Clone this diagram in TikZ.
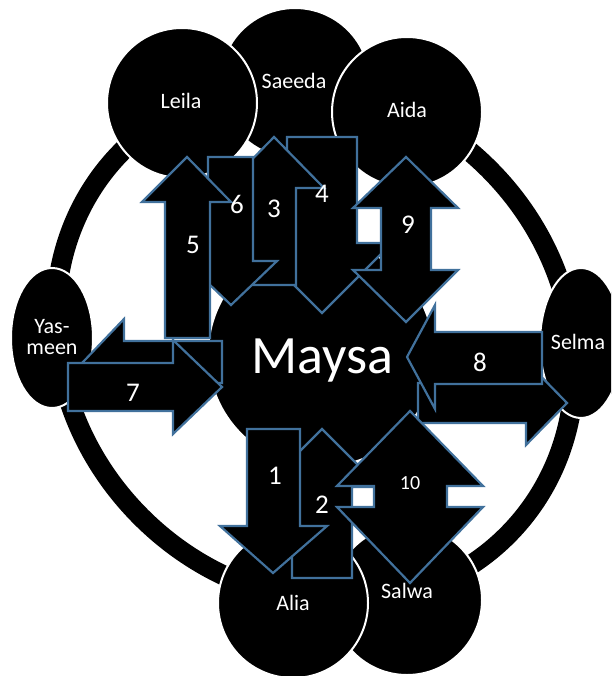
\documentclass[tikz,border=0pt]{standalone}
\usepackage{fontspec}
\setmainfont{Carlito}
\usetikzlibrary{shapes.geometric}
\definecolor{arrowblue}{HTML}{41719C}
\begin{document}
\begin{tikzpicture}[x=1pt,y=-1pt,
  person/.style={fill=black, draw=white, line width=2pt, inner sep=0pt},
  blockarrow/.style={fill=black, draw=arrowblue, line width=2.2pt, line join=miter, miter limit=10},
  nametext/.style={text=white, font=\fontsize{22}{26}\selectfont, inner sep=0pt, anchor=base},
  numtext/.style={text=white, font=\fontsize{27}{30}\selectfont, inner sep=0pt, anchor=base},
]
\useasboundingbox (0,0) rectangle (611,676);
\clip (0,0) rectangle (611,676);

% ring
\draw[line width=20pt, shift={(315,343)}, rotate=-45] (0,0) ellipse [x radius=272pt, y radius=246pt];

% people
\node[person, circle, minimum size=150pt] (saeeda) at (295,83) {};
\node[person, circle, minimum size=150pt] (leila) at (182,103) {};
\node[person, circle, minimum size=150pt] (aida) at (407,112) {};
\node[person, circle, minimum size=150pt] (salwa) at (407,600) {};
\node[person, circle, minimum size=150pt] (alia) at (293,603) {};
\node[person, ellipse, minimum width=82pt, minimum height=140pt] (yasmeen) at (52,338) {};
\node[person, ellipse, minimum width=82pt, minimum height=150pt] (selma) at (581,343) {};
\node[person, circle, minimum size=226pt] (maysa) at (321,354) {};

% arrows
\draw[blockarrow] (287,137) -- (357,137) -- (357,243) -- (392,243) -- (322,313) -- (252,243) -- (287,243) -- cycle; % 4
\draw[blockarrow] (274,137) -- (324,188) -- (296,188) -- (296,285) -- (252,285) -- (252,188) -- (224,188) -- cycle; % 3
\draw[blockarrow] (208,157) -- (253,157) -- (253,261) -- (277,261) -- (231,305) -- (185,261) -- (208,261) -- cycle; % 6
\draw[blockarrow] (187,157) -- (231,202) -- (210,202) -- (210,338) -- (165,338) -- (165,202) -- (142,202) -- cycle; % 5
\draw[blockarrow] (406,157) -- (458,208) -- (431,208) -- (431,270) -- (458,270) -- (406,322) -- (353,270) -- (381,270) -- (381,208) -- (353,208) -- cycle; % 9
\draw[blockarrow] (83,362) -- (124,319) -- (124,341) -- (222,341) -- (222,383) -- (124,383) -- (124,405) -- cycle; % to Yasmeen
\draw[blockarrow] (68,363) -- (173,363) -- (173,340) -- (222,387) -- (173,434) -- (173,411) -- (68,411) -- cycle; % 7
\draw[blockarrow] (418,383) -- (526,383) -- (526,361) -- (567,403) -- (526,445) -- (526,423) -- (418,423) -- cycle; % to Selma
\draw[blockarrow] (407,357) -- (435,305) -- (435,332) -- (542,332) -- (542,384) -- (435,384) -- (435,409) -- cycle; % 8
\draw[blockarrow] (322,429) -- (380,487) -- (352,487) -- (352,578) -- (292,578) -- (292,487) -- (264,487) -- cycle; % 2
\draw[blockarrow] (247,429) -- (300,429) -- (300,526) -- (327,526) -- (273,573) -- (220,526) -- (247,526) -- cycle; % 1
\draw[blockarrow] (410,411) -- (483,486) -- (447,486) -- (447,507) -- (483,507) -- (410,583) -- (337,507) -- (374,507) -- (374,486) -- (337,486) -- cycle; % 10

% names
\node[nametext] (tleila) at (181,109) {Leila};
\node[nametext] (tsaeeda) at (294,89) {Saeeda};
\node[nametext] (taida) at (407,118) {Aida};
\node[nametext] (talia) at (293,610) {Alia};
\node[nametext] (tsalwa) at (407,598) {Salwa};
\node[nametext] (tselma) at (578,349) {Selma};
\node[nametext] (tyas) at (52,333) {Yas-};
\node[nametext] (tmeen) at (52,354) {meen};
\node[text=white, font=\fontsize{54}{60}\selectfont, inner sep=0pt, anchor=base] (tmaysa) at (322,373) {Maysa};

% numbers
\node[numtext] (n1) at (275,484) {1};
\node[numtext] (n2) at (322,513) {2};
\node[numtext] (n3) at (274,218) {3};
\node[numtext] (n4) at (322,203) {4};
\node[numtext] (n5) at (193,253) {5};
\node[numtext] (n6) at (237,214) {6};
\node[numtext] (n7) at (133,401) {7};
\node[numtext] (n8) at (480,371) {8};
\node[numtext] (n9) at (408,233) {9};
\node[text=white, font=\fontsize{20}{24}\selectfont, inner sep=0pt, anchor=base] (n10) at (410,489) {10};
\end{tikzpicture}
\end{document}
